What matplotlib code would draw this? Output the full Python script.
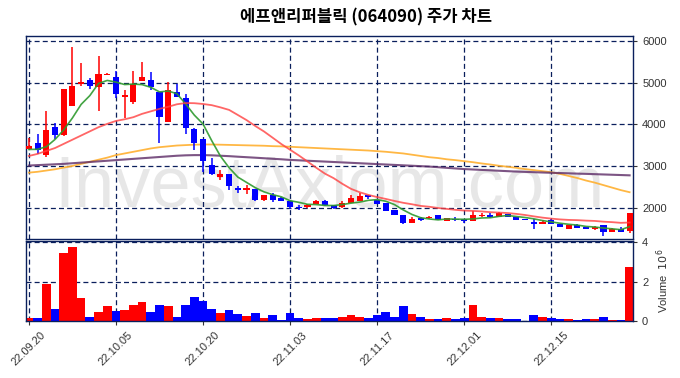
import matplotlib
matplotlib.use("Agg")
import matplotlib.pyplot as plt
import numpy as np
import pandas as pd

# %%
# Daily prices (KRW), 22.09.20 onwards
opens = [3413, 3557, 3253, 3940, 3739, 4433, 4970, 5073, 4898, 5190,
         5128, 4658, 4529, 5032, 5073, 4769, 4050, 4778, 4634, 3875,
         3636, 3013, 2733, 2797, 2479, 2421, 2455, 2182, 2295, 2223,
         2151, 2024, 2007, 2086, 2151, 2055, 2024, 2120, 2158, 2302,
         2175, 2120, 1935, 1816, 1631, 1744, 1755, 1816, 1680, 1736,
         1736, 1689, 1800, 1816, 1784, 1856, 1776, 1720, 1656, 1617,
         1696, 1600, 1488, 1576, 1544, 1497, 1576, 1408, 1497, 1440]
highs = [3677, 3772, 4313, 4036, 4850, 5856, 5473, 5100, 5631, 5220,
         5271, 4833, 5271, 5487, 5257, 4769, 5018, 4970, 4737, 3916,
         3636, 3197, 2900, 2797, 2517, 2541, 2455, 2295, 2359, 2260,
         2151, 2060, 2080, 2182, 2182, 2055, 2151, 2302, 2342, 2302,
         2175, 2120, 1935, 1816, 1776, 1776, 1790, 1816, 1744, 1780,
         1736, 1911, 1880, 1880, 1900, 1856, 1776, 1720, 1720, 1700,
         1730, 1600, 1576, 1600, 1544, 1560, 1576, 1510, 1530, 1864]
lows = [3400, 3277, 3221, 3636, 3715, 4433, 4929, 4850, 4313, 5180,
        4634, 4156, 4498, 5032, 4833, 3540, 4050, 4649, 3756, 3372,
        2853, 2774, 2654, 2414, 2342, 2335, 2158, 2170, 2134, 2158,
        1976, 1943, 1990, 2086, 2030, 1959, 1983, 2120, 2158, 2215,
        2086, 1919, 1816, 1600, 1631, 1680, 1730, 1713, 1680, 1680,
        1641, 1689, 1780, 1760, 1784, 1776, 1696, 1703, 1480, 1617,
        1617, 1536, 1488, 1521, 1497, 1470, 1320, 1408, 1416, 1400]
closes = [3490, 3380, 3858, 3739, 4850, 4929, 5008, 4912, 5200, 5210,
          4730, 4713, 4970, 5135, 4888, 4179, 4817, 4649, 3916, 3540,
          3116, 2814, 2797, 2517, 2421, 2479, 2182, 2295, 2182, 2158,
          2014, 1990, 2055, 2151, 2055, 2000, 2110, 2223, 2278, 2263,
          2086, 1919, 1816, 1641, 1720, 1696, 1765, 1713, 1744, 1703,
          1672, 1816, 1824, 1776, 1864, 1776, 1696, 1703, 1617, 1656,
          1617, 1536, 1576, 1521, 1497, 1544, 1416, 1480, 1416, 1864]
# volume in millions of shares
volumes = [0.15, 0.15, 1.87, 0.61, 3.44, 3.75, 1.16, 0.20, 0.46, 0.76,
           0.51, 0.56, 0.81, 0.96, 0.46, 0.81, 0.76, 0.20, 0.81, 1.22,
           1.01, 0.61, 0.41, 0.56, 0.35, 0.25, 0.41, 0.15, 0.30, 0.05,
           0.41, 0.15, 0.10, 0.15, 0.15, 0.15, 0.20, 0.30, 0.20, 0.15,
           0.30, 0.46, 0.20, 0.76, 0.35, 0.20, 0.10, 0.10, 0.15, 0.10,
           0.15, 0.81, 0.20, 0.15, 0.15, 0.10, 0.10, 0.02, 0.30, 0.20,
           0.15, 0.10, 0.10, 0.05, 0.10, 0.10, 0.20, 0.05, 0.05, 2.73]

# moving averages before enough days are on the chart
ma5_head = [3396, 3400, 3461, 3636]
ma20_head = [3240, 3290, 3360, 3430, 3530, 3630, 3730, 3830, 3930, 4010,
             4080, 4120, 4170, 4250, 4310, 4370, 4420, 4480, 4510]
ma60 = [2840, 2860, 2890, 2920, 2960, 3000, 3050, 3100, 3150, 3200,
        3260, 3300, 3340, 3380, 3420, 3450, 3470, 3490, 3500, 3510,
        3515, 3515, 3510, 3505, 3500, 3495, 3490, 3485, 3475, 3470,
        3460, 3450, 3440, 3430, 3420, 3410, 3400, 3390, 3380, 3370,
        3355, 3340, 3320, 3300, 3270, 3240, 3210, 3190, 3160, 3140,
        3115, 3090, 3060, 3035, 3005, 2980, 2955, 2925, 2900, 2875,
        2850, 2810, 2760, 2710, 2650, 2600, 2540, 2480, 2420, 2370]
ma120 = [3010, 3020, 3030, 3040, 3050, 3065, 3080, 3095, 3110, 3125,
         3140, 3155, 3170, 3185, 3200, 3215, 3230, 3245, 3255, 3260,
         3260, 3255, 3245, 3235, 3222, 3210, 3198, 3185, 3172, 3160,
         3145, 3135, 3125, 3115, 3105, 3095, 3085, 3075, 3065, 3055,
         3045, 3035, 3025, 3015, 3005, 2995, 2985, 2970, 2955, 2940,
         2925, 2915, 2905, 2895, 2885, 2875, 2865, 2858, 2850, 2843,
         2836, 2830, 2823, 2816, 2810, 2803, 2796, 2789, 2782, 2775]

tick_labels = ['22.09.20', '22.10.05', '22.10.20', '22.11.03',
               '22.11.17', '22.12.01', '22.12.15']

# %%
df = pd.DataFrame({'open': opens, 'high': highs, 'low': lows,
                   'close': closes, 'volume': volumes})
x = np.arange(len(df))
ma5 = df['close'].rolling(5).mean().to_numpy()
ma5[:len(ma5_head)] = ma5_head
ma20 = df['close'].rolling(20).mean().to_numpy()
ma20[:len(ma20_head)] = ma20_head

up = df['close'] >= df['open']
colors = np.where(up, '#ff0000', '#0000ff')

plt.rcParams['font.family'] = ['Liberation Sans', 'Noto Sans CJK KR', 'DejaVu Sans']
navy = '#0a1f5c'
grid_kw = dict(color=navy, linestyle=(0, (4, 2.5)), linewidth=0.9)

fig = plt.figure(figsize=(6.8, 3.78), dpi=100)
ax = fig.add_axes([0.038, 0.368, 0.893, 0.537])
axv = fig.add_axes([0.038, 0.151, 0.893, 0.211], sharex=ax)

# watermark
ax.text(0.5, 0.25, 'InvestAxiom.com', transform=ax.transAxes, ha='center',
        va='center', fontsize=52, color='#d8d8d8', alpha=0.6, zorder=0)

# candles
ax.vlines(x, df['low'], df['high'], colors=colors, linewidth=1.1, zorder=3)
body = (df['close'] - df['open']).abs().to_numpy()
body = np.maximum(body, 12)
ax.bar(x, body, bottom=np.minimum(df['open'], df['close']), width=0.7,
       color=colors, zorder=4, linewidth=0)

ax.plot(x, ma5, color='#2e9a2e', linewidth=1.2, alpha=0.9, zorder=5)
ax.plot(x, ma20, color='#ff4040', linewidth=1.3, alpha=0.8, zorder=5)
ax.plot(x, ma60, color='#ffb030', linewidth=1.3, alpha=0.9, zorder=2)
ax.plot(x, ma120, color='#5c2a66', linewidth=1.5, alpha=0.8, zorder=2)

ax.set_xlim(-0.35, 69.4)
ax.set_ylim(1250, 6120)
ax.set_yticks([2000, 3000, 4000, 5000, 6000])
ax.yaxis.tick_right()
ax.tick_params(axis='y', labelsize=8, colors='#333333', length=3)
ax.tick_params(axis='x', bottom=False, labelbottom=False)
ax.grid(True, **grid_kw)
ax.set_axisbelow(True)

# volume
axv.bar(x, df['volume'], width=1.0, color=colors, linewidth=0)
axv.set_ylim(0, 4.05)
axv.set_yticks([0, 2, 4])
axv.yaxis.tick_right()
axv.yaxis.set_label_position('right')
axv.set_ylabel(r'Volume  $10^6$', fontsize=8, color='#333333', labelpad=4)
axv.set_xticks(np.arange(0, 61, 10))
axv.set_xticklabels(tick_labels, rotation=45, ha='center')
axv.tick_params(axis='both', labelsize=8, colors='#333333', length=3)
axv.grid(True, **grid_kw)
axv.set_axisbelow(True)

for a in (ax, axv):
    for s in a.spines.values():
        s.set_color(navy)
        s.set_linewidth(1.0)

fig.text(0.538, 0.955, '에프앤리퍼블릭 (064090) 주가 차트', ha='center', va='center',
         fontsize=12, fontweight='bold', family=['Noto Sans CJK KR', 'DejaVu Sans'])

fig.savefig('out.png', dpi=100)
